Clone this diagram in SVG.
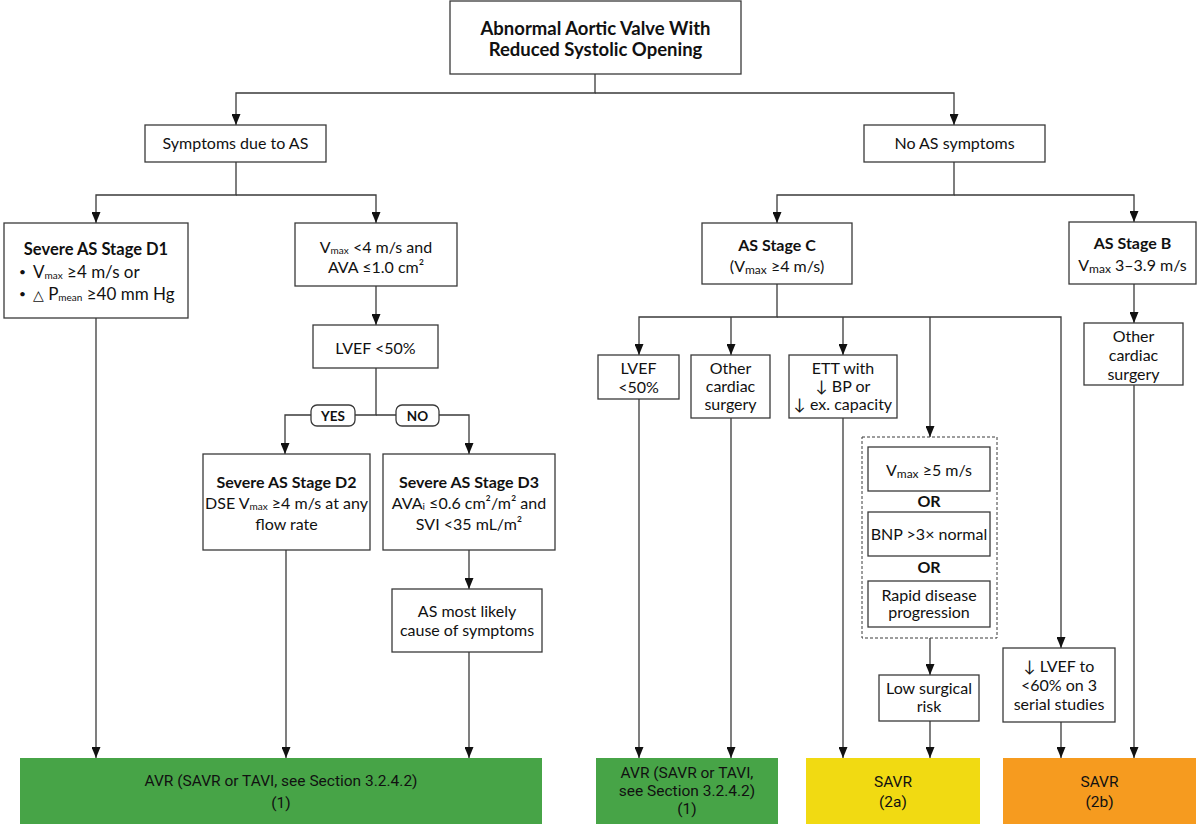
<svg xmlns="http://www.w3.org/2000/svg" width="1200" height="827" viewBox="0 0 1200 827">
<style>
.bx{fill:#fff;stroke:#3a3a3a;stroke-width:1.3}
.ln{fill:none;stroke:#3a3a3a;stroke-width:1.3}
.t{font-family:Lato,"Noto Sans","DejaVu Sans",sans-serif;font-size:16px;fill:#111;text-anchor:middle}
.l{text-anchor:start}
.b{font-weight:700}
.f{font-family:Roboto,"Liberation Sans",sans-serif;font-size:15.5px;fill:#111;text-anchor:middle}
.s{font-size:10px}
.lab{font-family:Lato,"Noto Sans",sans-serif;font-size:13.5px;font-weight:700;fill:#111;text-anchor:middle}
</style>
<defs>
<marker id="ah" viewBox="0 0 10 10" preserveAspectRatio="none" markerUnits="userSpaceOnUse" markerWidth="11" markerHeight="9" refX="10" refY="5" orient="auto">
<path d="M0,0 L10,5 L0,10 z" fill="#111"/>
</marker>
</defs>
<rect width="1200" height="827" fill="#fff"/>
<g id="connectors" class="ln">
<path d="M595,74 V93 H236 V125" marker-end="url(#ah)"/>
<path d="M595,93 H954 V125" marker-end="url(#ah)"/>
<path d="M236,162 V195 H96 V223" marker-end="url(#ah)"/>
<path d="M236,195 H376 V223" marker-end="url(#ah)"/>
<path d="M376,286 V325" marker-end="url(#ah)"/>
<path d="M376,368 V415 H285 V454" marker-end="url(#ah)"/>
<path d="M376,415 H469 V454" marker-end="url(#ah)"/>
<path d="M96,318 V758" marker-end="url(#ah)"/>
<path d="M286,550 V758" marker-end="url(#ah)"/>
<path d="M469,550 V589" marker-end="url(#ah)"/>
<path d="M469,652 V758" marker-end="url(#ah)"/>
<path d="M954,162 V195 H777 V223" marker-end="url(#ah)"/>
<path d="M954,195 H1134 V222" marker-end="url(#ah)"/>
<path d="M777,284 V317 H639 V355" marker-end="url(#ah)"/>
<path d="M777,317 H1061 V648" marker-end="url(#ah)"/>
<path d="M731,317 V355" marker-end="url(#ah)"/>
<path d="M843,317 V355" marker-end="url(#ah)"/>
<path d="M930,317 V437" marker-end="url(#ah)"/>
<path d="M639,399 V758" marker-end="url(#ah)"/>
<path d="M731,418 V758" marker-end="url(#ah)"/>
<path d="M843,418 V758" marker-end="url(#ah)"/>
<path d="M930,638 V675" marker-end="url(#ah)"/>
<path d="M930,721 V758" marker-end="url(#ah)"/>
<path d="M1061,722 V758" marker-end="url(#ah)"/>
<path d="M1134,284 V323" marker-end="url(#ah)"/>
<path d="M1134,385 V758" marker-end="url(#ah)"/>
</g>
<g id="root">
<rect class="bx" x="450" y="1" width="291" height="73"/>
<text class="t b" x="595.5" y="35" style="font-size:18.5px">Abnormal Aortic Valve With</text>
<text class="t b" x="595.5" y="56" style="font-size:18.5px">Reduced Systolic Opening</text>
</g>
<g id="symptoms">
<rect class="bx" x="145" y="125" width="181" height="37"/>
<text class="t" x="235.5" y="149">Symptoms due to AS</text>
</g>
<g id="no-symptoms">
<rect class="bx" x="864" y="125" width="181" height="37"/>
<text class="t" x="954.5" y="149">No AS symptoms</text>
</g>
<g id="d1">
<rect class="bx" x="4" y="223" width="184" height="95"/>
<text class="t b" x="96" y="255" style="font-size:16.5px">Severe AS Stage D1</text>
<text class="t l" x="19" y="276" style="font-size:12px">•</text>
<text class="t l" x="33" y="278" style="font-size:17px">V<tspan class="s" dy="1">max</tspan><tspan dy="-1"> ≥4 m/s or</tspan></text>
<text class="t l" x="19" y="298" style="font-size:12px">•</text>
<text class="t l" x="33" y="300" style="font-size:17px"><tspan style="font-size:14px">△</tspan> P<tspan class="s" dy="1">mean</tspan><tspan dy="-1"> ≥40 mm Hg</tspan></text>
</g>
<g id="vmax-lt4">
<rect class="bx" x="295" y="223" width="162" height="63"/>
<text class="t" x="376" y="253">V<tspan class="s" dy="1">max</tspan><tspan dy="-1"> &lt;4 m/s and</tspan></text>
<text class="t" x="376" y="273">AVA ≤1.0 cm²</text>
</g>
<g id="lvef-left">
<rect class="bx" x="313" y="325" width="125" height="43"/>
<text class="t" x="375.5" y="354">LVEF &lt;50%</text>
</g>
<g id="yes">
<rect class="bx" x="311" y="405" width="44" height="21" rx="6"/>
<text class="lab" x="333" y="420.5">YES</text>
</g>
<g id="no">
<rect class="bx" x="396" y="405" width="43" height="21" rx="6"/>
<text class="lab" x="417.5" y="420.5">NO</text>
</g>
<g id="d2">
<rect class="bx" x="203" y="454" width="167" height="96"/>
<text class="t b" x="286.5" y="488">Severe AS Stage D2</text>
<text class="t" x="286.5" y="509">DSE V<tspan class="s" dy="1">max</tspan><tspan dy="-1"> ≥4 m/s at any</tspan></text>
<text class="t" x="286.5" y="530">flow rate</text>
</g>
<g id="d3">
<rect class="bx" x="383" y="454" width="172" height="96"/>
<text class="t b" x="469" y="488">Severe AS Stage D3</text>
<text class="t" x="469" y="509">AVA<tspan class="s" dy="1">i</tspan><tspan dy="-1"> ≤0.6 cm²/m² and</tspan></text>
<text class="t" x="469" y="530">SVI &lt;35 mL/m²</text>
</g>
<g id="as-likely">
<rect class="bx" x="392" y="589" width="150" height="63"/>
<text class="t" x="467" y="617">AS most likely</text>
<text class="t" x="467" y="636">cause of symptoms</text>
</g>
<g id="stage-c">
<rect class="bx" x="702" y="223" width="150" height="61"/>
<text class="t b" x="777" y="251">AS Stage C</text>
<text class="t" x="777" y="272">(V<tspan style="font-size:12px" dy="2">max</tspan><tspan dy="-2"> ≥4 m/s)</tspan></text>
</g>
<g id="stage-b">
<rect class="bx" x="1069" y="222" width="127" height="62"/>
<text class="t b" x="1132.5" y="249">AS Stage B</text>
<text class="t" x="1132.5" y="271">V<tspan style="font-size:12px" dy="2">max</tspan><tspan dy="-2"> 3–3.9 m/s</tspan></text>
</g>
<g id="other-b">
<rect class="bx" x="1084" y="323" width="99" height="62"/>
<text class="t" x="1133.5" y="342">Other</text>
<text class="t" x="1133.5" y="361">cardiac</text>
<text class="t" x="1133.5" y="380">surgery</text>
</g>
<g id="lvef-c">
<rect class="bx" x="598" y="355" width="81" height="44"/>
<text class="t" x="638.5" y="374">LVEF</text>
<text class="t" x="638.5" y="393">&lt;50%</text>
</g>
<g id="other-c">
<rect class="bx" x="691" y="355" width="79" height="63"/>
<text class="t" x="730.5" y="374">Other</text>
<text class="t" x="730.5" y="392">cardiac</text>
<text class="t" x="730.5" y="410">surgery</text>
</g>
<g id="ett">
<rect class="bx" x="789" y="355" width="108" height="63"/>
<text class="t" x="843" y="374">ETT with</text>
<text class="t" x="843" y="392">↓ BP or</text>
<text class="t" x="843" y="410">↓ ex. capacity</text>
</g>
<g id="criteria">
<rect x="862" y="437" width="135" height="201" fill="none" stroke="#3a3a3a" stroke-width="1" stroke-dasharray="3 2"/>
<rect class="bx" x="868" y="447" width="122" height="44"/>
<text class="t" x="929" y="476">V<tspan style="font-size:12px" dy="2">max</tspan><tspan dy="-2"> ≥5 m/s</tspan></text>
<text class="t b" x="929" y="507">OR</text>
<rect class="bx" x="868" y="512" width="122" height="44"/>
<text class="t" x="929" y="540">BNP &gt;3× normal</text>
<text class="t b" x="929" y="573">OR</text>
<rect class="bx" x="868" y="581" width="122" height="46"/>
<text class="t" x="929" y="601">Rapid disease</text>
<text class="t" x="929" y="618">progression</text>
</g>
<g id="low-risk">
<rect class="bx" x="879" y="675" width="100" height="46"/>
<text class="t" x="929" y="694">Low surgical</text>
<text class="t" x="929" y="712">risk</text>
</g>
<g id="lvef-decline">
<rect class="bx" x="1003" y="648" width="112" height="74"/>
<text class="t" x="1059" y="672">↓ LVEF to</text>
<text class="t" x="1059" y="691">&lt;60% on 3</text>
<text class="t" x="1059" y="710">serial studies</text>
</g>
<g id="avr1">
<rect x="20" y="758" width="522" height="66" fill="#47a447"/>
<text class="f" x="281" y="786">AVR (SAVR or TAVI, see Section 3.2.4.2)</text>
<text class="f" x="281" y="808">(1)</text>
</g>
<g id="avr2">
<rect x="596" y="758" width="182" height="66" fill="#47a447"/>
<text class="f" x="687" y="778">AVR (SAVR or TAVI,</text>
<text class="f" x="687" y="796">see Section 3.2.4.2)</text>
<text class="f" x="687" y="814">(1)</text>
</g>
<g id="savr-2a">
<rect x="806" y="758" width="174" height="66" fill="#f1da12"/>
<text class="f" x="893" y="787">SAVR</text>
<text class="f" x="893" y="807">(2a)</text>
</g>
<g id="savr-2b">
<rect x="1003" y="758" width="193" height="66" fill="#f69b1f"/>
<text class="f" x="1099.5" y="787">SAVR</text>
<text class="f" x="1099.5" y="807">(2b)</text>
</g>
</svg>
